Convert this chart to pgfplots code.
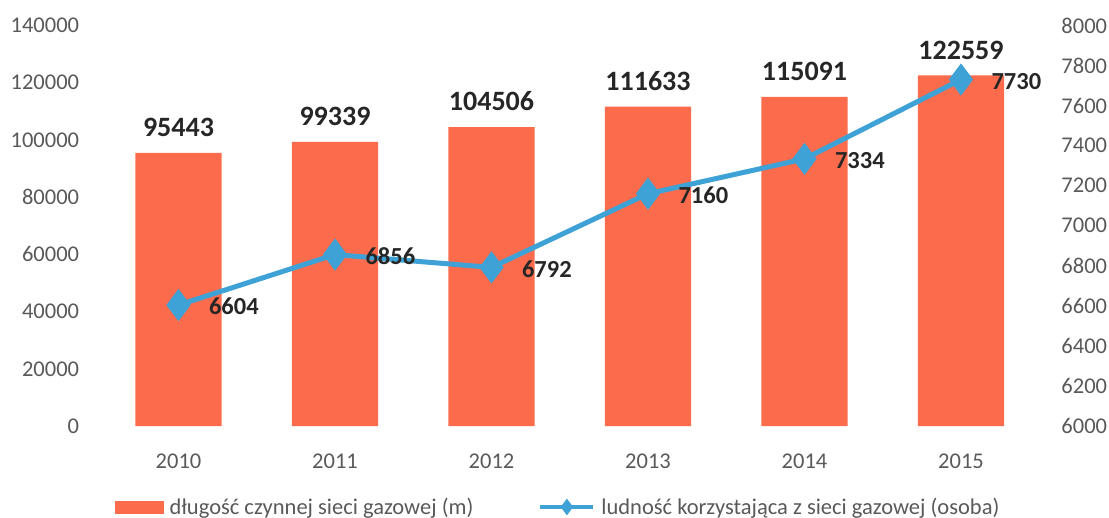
\documentclass[border=0pt]{standalone}
\usepackage{fontspec}
\setmainfont{Carlito}
\usepackage{pgfplots}
\pgfplotsset{compat=1.18}
\definecolor{barc}{RGB}{252,107,76}
\definecolor{linec}{RGB}{62,162,214}
\definecolor{tickc}{RGB}{89,89,89}
\definecolor{labc}{RGB}{38,38,38}
\begin{document}
\begin{tikzpicture}
\path[use as bounding box] (-100.25bp,-92bp) rectangle (1008.75bp,426bp);
\pgfplotsset{
 common/.style={
  scale only axis, width=939bp, height=400.5bp,
  xmin=-0.5, xmax=5.5, clip=false,
  axis line style={draw=none}, tick style={draw=none},
  /pgf/number format/assume math mode=true,
  ticklabel style={font=\fontsize{22.5bp}{27bp}\selectfont, text=tickc},
 }
}
\begin{axis}[common,
  ymin=0, ymax=140000, ytick={0,20000,...,140000},
  yticklabel style={/pgf/number format/fixed, /pgf/number format/1000 sep={}, anchor=east, inner sep=0pt, xshift=-21bp},
  scaled y ticks=false,
  xtick={0,...,5}, xticklabels={2010,2011,2012,2013,2014,2015},
  xticklabel style={anchor=center, inner sep=0pt, yshift=-31bp},
  ybar, bar width=0.55,
  nodes near coords, point meta=explicit symbolic,
  nodes near coords style={font=\bfseries\fontsize{28bp}{32bp}\selectfont, text=labc, inner sep=0pt, anchor=south, yshift=16bp},
]
\addplot[fill=barc, draw=none] coordinates {(0,95443)[95443] (1,99339)[99339] (2,104506)[104506] (3,111633)[111633] (4,115091)[115091] (5,122559)[122559]};
\end{axis}
\begin{axis}[common,
  axis y line*=right, axis x line=none,
  ymin=6000, ymax=8000, ytick={6000,6200,...,8000},
  yticklabel style={/pgf/number format/fixed, /pgf/number format/1000 sep={}, anchor=west, inner sep=0pt, xshift=22bp},
  legend columns=2,
  legend style={at={(0.0157,-0.2022)}, anchor=west, draw=none, fill=none, inner sep=0pt,
    font=\fontsize{22.5bp}{27bp}\selectfont, text=tickc,
    nodes={inner sep=0pt},
    /tikz/every odd column/.append style={column sep=6bp},
    /tikz/every even column/.append style={column sep=65bp}},
]
\addlegendimage{legend image code/.code={\fill[barc] (0bp,-5.75bp) rectangle (48bp,5.75bp);}}
\addlegendentry{długość czynnej sieci gazowej (m)}
\addplot[linec, line width=5bp, mark=diamond*, mark options={solid}, mark size=12bp,
  nodes near coords, point meta=explicit symbolic,
  nodes near coords style={font=\bfseries\fontsize{24.5bp}{29bp}\selectfont, text=labc, anchor=west, inner sep=0pt, xshift=28bp, yshift=-1.5bp},
  legend image code/.code={\draw[line width=4bp, mark size=5bp, mark repeat=2, mark phase=2] plot coordinates {(0bp,0bp)(26.5bp,0bp)(53bp,0bp)};}]
  coordinates {(0,6604)[6604] (1,6856)[6856] (2,6792)[6792] (3,7160)[7160] (4,7334)[7334] (5,7730)[7730]};
\addlegendentry{ludność korzystająca z sieci gazowej (osoba)}
\end{axis}
\end{tikzpicture}
\end{document}
